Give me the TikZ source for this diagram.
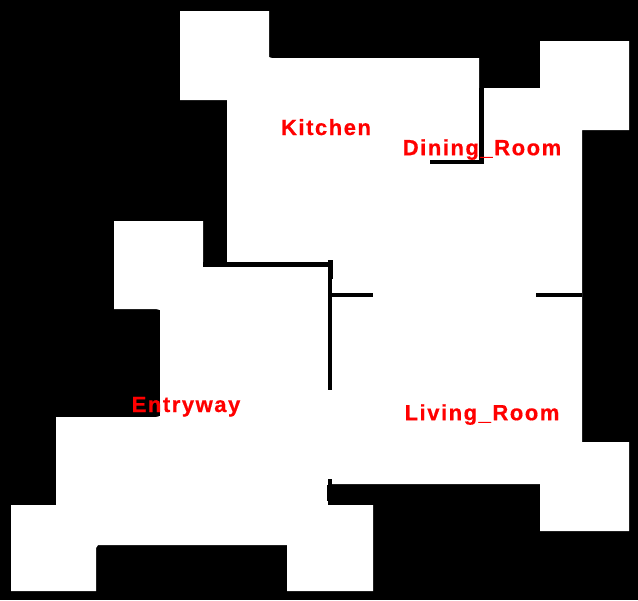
\documentclass[tikz,border=0pt]{standalone}
\usepackage{fontspec}
\newfontfamily\labelfont[LetterSpace=7,FakeBold=0.6]{Liberation Sans Bold}
\tikzset{
  room/.style={text=red,font=\labelfont\fontsize{16.5}{18}\selectfont,inner sep=0pt,anchor=base},
  wall/.style={fill=black,draw=none}
}
\begin{document}
\begin{tikzpicture}[x=0.75pt,y=-0.75pt]
\useasboundingbox (0,0) rectangle (638,600);
\fill[black] (0,0) rectangle (638,600);

% floor outline
\fill[white] (180,11) -- (269,11) -- (269,57) -- (272,58) -- (479,58) -- (479,163) -- (484,163)
  -- (484,88) -- (540,88) -- (540,41) -- (629,41) -- (629,130) -- (582,130) -- (582,442)
  -- (629,442) -- (629,531) -- (540,531) -- (540,484) -- (328,484) -- (328,505) -- (373,505)
  -- (373,591) -- (287,591) -- (287,545) -- (98,545) -- (96,548) -- (96,591) -- (11,591)
  -- (11,505) -- (56,505) -- (56,417) -- (156,417) -- (160,416) -- (160,310) -- (156,309)
  -- (114,309) -- (114,221) -- (203,221) -- (203,267) -- (227,267) -- (227,100) -- (180,100) -- cycle;

% walls
\fill[wall] (203,262) rectangle (333,267);
\fill[wall] (328,260) rectangle (332,390);
\fill[wall] (328,260) rectangle (333,279);
\fill[wall] (332,293) rectangle (373,297);
\fill[wall] (536,293) rectangle (582,297);
\fill[wall] (479,88) rectangle (484,164);
\fill[wall] (430,160) rectangle (484,164);
\fill[wall] (328,479) rectangle (332,505);
\fill[wall] (327,485) rectangle (329,501);

\node[room](kitchen) at (326,135) {Kitchen};
\node[room](dining) at (482,155.2) {Dining\_Room};
\node[room](entry) at (186,412) {Entryway};
\node[room](living) at (482,420.2) {Living\_Room};

\end{tikzpicture}
\end{document}
